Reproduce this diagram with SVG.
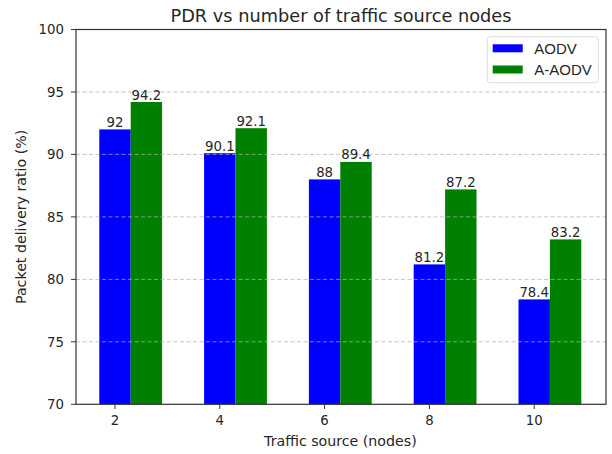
<svg xmlns="http://www.w3.org/2000/svg" width="612" height="454" viewBox="0 0 612 454">
<style>
.t{font-family:"DejaVu Sans",sans-serif;font-size:13.3px;fill:#262626}
.yt{text-anchor:end}
.xt{text-anchor:middle}
.lab{font-family:"DejaVu Sans",sans-serif;font-size:14.2px;fill:#262626;text-anchor:middle}
.v{font-family:"DejaVu Sans",sans-serif;font-size:13.3px;fill:#262626;text-anchor:middle}
.grid{stroke:#b0b0b0;stroke-width:0.9;stroke-dasharray:4,2.5;opacity:0.8}
.tick{stroke:#333;stroke-width:1}
.a{fill:#0000ff}
.g{fill:#008000}
.lg{font-family:"Liberation Sans",Arial,sans-serif;font-size:15px;fill:#262626}
</style>
<rect width="612" height="454" fill="#ffffff"/>
<text x="341" y="22" font-family="DejaVu Sans, sans-serif" font-size="17.6" fill="#262626" text-anchor="middle" textLength="341" lengthAdjust="spacingAndGlyphs">PDR vs number of traffic source nodes</text>
<g id="bars-aodv">
<rect class="a" x="99.3" y="129.4" width="31.4" height="274.9"/>
<rect class="a" x="204.1" y="153.2" width="31.4" height="251.1"/>
<rect class="a" x="308.9" y="179.4" width="31.4" height="224.9"/>
<rect class="a" x="413.7" y="264.4" width="31.4" height="139.9"/>
<rect class="a" x="518.5" y="299.4" width="31.4" height="104.9"/>
</g>
<g id="bars-aaodv">
<rect class="g" x="130.7" y="102.0" width="31.4" height="302.3"/>
<rect class="g" x="235.5" y="128.2" width="31.4" height="276.1"/>
<rect class="g" x="340.3" y="161.9" width="31.4" height="242.4"/>
<rect class="g" x="445.1" y="189.4" width="31.4" height="214.9"/>
<rect class="g" x="549.9" y="239.4" width="31.4" height="164.9"/>
</g>
<g id="grid">
<line class="grid" x1="76" y1="92" x2="606" y2="92"/>
<line class="grid" x1="76" y1="154.4" x2="606" y2="154.4"/>
<line class="grid" x1="76" y1="216.9" x2="606" y2="216.9"/>
<line class="grid" x1="76" y1="279.4" x2="606" y2="279.4"/>
<line class="grid" x1="76" y1="341.8" x2="606" y2="341.8"/>
</g>
<g id="values">
<text class="v" x="115" y="126.9">92</text>
<text class="v" x="146.4" y="99.5">94.2</text>
<text class="v" x="219.8" y="150.7">90.1</text>
<text class="v" x="251.2" y="125.7">92.1</text>
<text class="v" x="324.6" y="176.9">88</text>
<text class="v" x="356" y="159.4">89.4</text>
<text class="v" x="429.4" y="261.9">81.2</text>
<text class="v" x="460.8" y="186.9">87.2</text>
<text class="v" x="534.2" y="296.9">78.4</text>
<text class="v" x="565.6" y="236.9">83.2</text>
</g>
<g id="axes">
<rect x="76" y="29.5" width="530" height="374.8" fill="none" stroke="#333" stroke-width="1.2"/>
<line class="tick" x1="71" y1="29.5" x2="76" y2="29.5"/>
<line class="tick" x1="71" y1="92" x2="76" y2="92"/>
<line class="tick" x1="71" y1="154.4" x2="76" y2="154.4"/>
<line class="tick" x1="71" y1="216.9" x2="76" y2="216.9"/>
<line class="tick" x1="71" y1="279.4" x2="76" y2="279.4"/>
<line class="tick" x1="71" y1="341.8" x2="76" y2="341.8"/>
<line class="tick" x1="71" y1="404.3" x2="76" y2="404.3"/>
<line class="tick" x1="115" y1="404.3" x2="115" y2="409"/>
<line class="tick" x1="219.8" y1="404.3" x2="219.8" y2="409"/>
<line class="tick" x1="324.6" y1="404.3" x2="324.6" y2="409"/>
<line class="tick" x1="429.4" y1="404.3" x2="429.4" y2="409"/>
<line class="tick" x1="534.2" y1="404.3" x2="534.2" y2="409"/>
<text class="t yt" x="64" y="34.3">100</text>
<text class="t yt" x="64" y="96.8">95</text>
<text class="t yt" x="64" y="159.2">90</text>
<text class="t yt" x="64" y="221.7">85</text>
<text class="t yt" x="64" y="284.2">80</text>
<text class="t yt" x="64" y="346.6">75</text>
<text class="t yt" x="64" y="409.1">70</text>
<text class="t xt" x="115" y="425">2</text>
<text class="t xt" x="219.8" y="425">4</text>
<text class="t xt" x="324.6" y="425">6</text>
<text class="t xt" x="429.4" y="425">8</text>
<text class="t xt" x="534.2" y="425">10</text>
<text class="lab" x="340.4" y="445.5">Traffic source (nodes)</text>
<text class="lab" transform="translate(26,216.9) rotate(-90)">Packet delivery ratio (%)</text>
</g>
<g id="legend">
<rect x="487.3" y="36.7" width="111" height="46" rx="3" fill="#ffffff" fill-opacity="0.8" stroke="#dddddd" stroke-width="1"/>
<rect class="a" x="492.7" y="44.3" width="30" height="8"/>
<rect class="g" x="492.7" y="65.5" width="30" height="8"/>
<text class="lg" x="534.3" y="53.5">AODV</text>
<text class="lg" x="534.3" y="74.5">A-AODV</text>
</g>
</svg>
